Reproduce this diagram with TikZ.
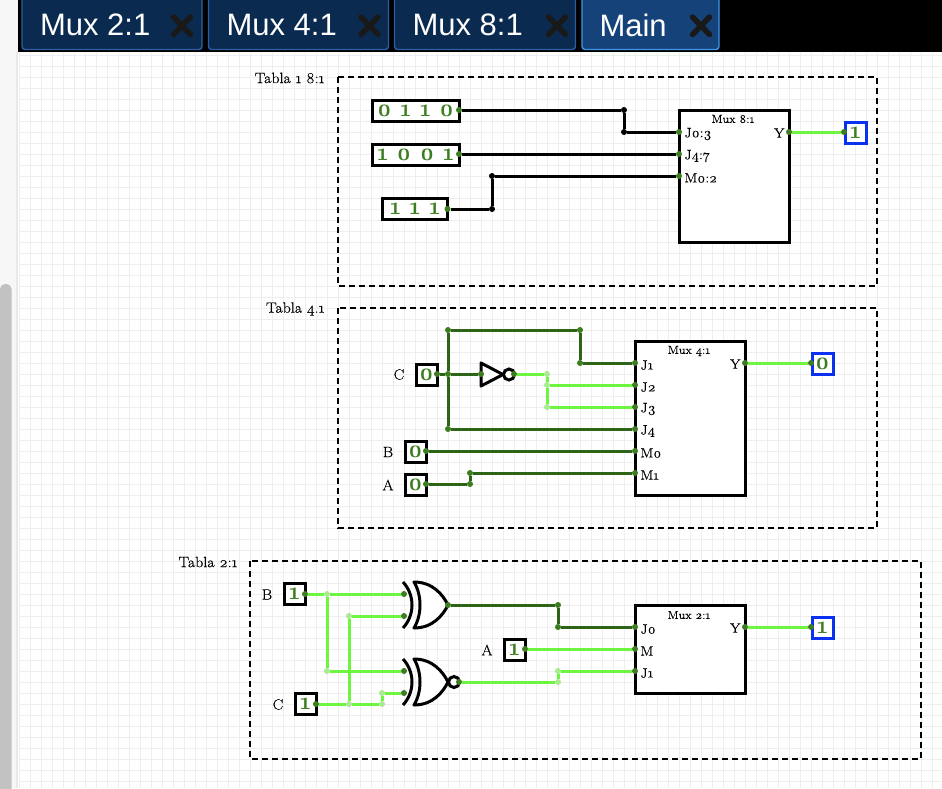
\documentclass[tikz,border=0pt]{standalone}
\usepackage{fontspec}
\setmainfont[Numbers=OldStyle,FakeBold=0.25,FakeStretch=1.06]{Latin Modern Roman}
\newfontfamily\digitfont[Numbers=OldStyle,FakeStretch=0.88,BoldFeatures={FakeStretch=0.88}]{Latin Modern Roman}
\setsansfont{Liberation Sans}
\usetikzlibrary{arrows.meta,positioning,shapes.geometric,calc}
\definecolor{wirelo}{HTML}{2E6417}
\definecolor{wirehi}{HTML}{6DF53F}
\definecolor{pingreen}{HTML}{3B7D1F}
\definecolor{pinlight}{HTML}{A8EB91}
\definecolor{outblue}{HTML}{0A30F0}
\definecolor{gridgray}{HTML}{EEEEEE}
\definecolor{tabnavy}{HTML}{0A2A4F}
\definecolor{tabline}{HTML}{2A5FA5}
\definecolor{tabmain}{HTML}{16427A}
\definecolor{tabmainline}{HTML}{3E95EA}
\tikzset{
  gridline/.style={draw=gridgray, line width=1pt},
  group/.style={draw=black, line width=1.6pt, dash pattern=on 6pt off 4pt},
  grouptitle/.style={font=\fontsize{15}{16}\selectfont, anchor=east},
  inbox/.style={draw=black, line width=3pt, fill=white, inner sep=0pt, minimum height=21pt, text=pingreen, font=\digitfont\bfseries\fontsize{25}{26}\selectfont},
  outbox/.style={inbox, draw=outblue},
  muxbox/.style={draw=black, line width=3pt, fill=white, minimum width=110pt},
  muxtitle/.style={font=\fontsize{11.5}{12}\selectfont},
  pinlabel/.style={font=\fontsize{13.5}{14}\selectfont, anchor=west},
  sidelabel/.style={font=\fontsize{15}{16}\selectfont},
  pindot/.style={circle, fill=pingreen, inner sep=0pt, minimum size=6pt},
  lightdot/.style={circle, fill=pinlight, inner sep=0pt, minimum size=6pt},
  busdot/.style={circle, fill=black, inner sep=0pt, minimum size=6pt},
  wlo/.style={draw=wirelo, line width=3pt},
  whi/.style={draw=wirehi, line width=3pt},
  wbus/.style={draw=black, line width=3pt},
  gateline/.style={draw=black, line width=3pt, fill=white, line join=round},
  bubble/.style={circle, draw=black, line width=3pt, fill=white, inner sep=0pt, minimum size=11pt},
  tabbox/.style={rounded corners=3pt, line width=1.4pt, draw=tabline, fill=tabnavy, minimum height=54pt, inner sep=0pt},
  tabtext/.style={font=\sffamily\fontsize{31}{32}\selectfont, text=white, anchor=west},
  closex/.style={draw=black!90, line width=5.5pt, line cap=round},
  xorgate/.pic={
    \draw[gateline, fill=none] (0,-23) .. controls (12,-10) and (12,10) .. (0,23);
    \draw[gateline] (11,-23) .. controls (30,-23) and (40,-10) .. (45,0) .. controls (40,10) and (30,23) .. (11,23) .. controls (19,10) and (19,-10) .. (11,-23) -- cycle;
  }
}
\begin{document}
\begin{tikzpicture}[x=1pt,y=-1pt]
\useasboundingbox (0,0) rectangle (942,788);
\fill[white] (0,0) rectangle (942,788);
% page
\fill[black!3] (0,0) rectangle (18,788);
\fill[black!9] (16,52) rectangle (18,788);
\fill[black!24, rounded corners=5pt] (0,284) rectangle (11.5,800);
\foreach \x in {19.7,30.7,...,942} \draw[gridline] (\x,52) -- (\x,788);
\foreach \y in {55.3,66.3,...,788} \draw[gridline] (19,\y) -- (942,\y);
% tabs
\fill[black] (18,0) rectangle (942,52);
\foreach \n/\x/\w/\t/\c in {a/112/180/Mux 2:1/182,b/298.5/180/Mux 4:1/369.5,c/485/181/Mux 8:1/557} {
  \node[tabbox, minimum width=\w] (tab\n) at (\x,22.5) {};
  \node[tabtext] (tab\n t) at (\x-\w/2+14.5,25) {\t};
  \draw[closex] (\c-8.5,17) -- (\c+8.5,34.5) (\c-8.5,34.5) -- (\c+8.5,17);
}
\node[tabbox, minimum width=137, fill=tabmain, draw=tabmainline] (tabd) at (650.5,22.5) {};
\node[tabtext] (tabd t) at (596,25) {Main};
\draw[closex] (692.5,17) -- (709.5,34.5) (692.5,34.5) -- (709.5,17);

% table 8:1
\draw[group] (338,77) rectangle (877,286);
\node[grouptitle] (t8) at (328,78) {Tabla 1 8:1};
\node[inbox, minimum width=87pt] (x0) at (415.5,110.5) {0\hspace{9pt}1\hspace{9pt}1\hspace{9pt}0\hspace{2pt}};
\node[inbox, minimum width=87pt] (x1) at (415.5,154.5) {1\hspace{9pt}0\hspace{9pt}0\hspace{9pt}1\hspace{2pt}};
\node[inbox, minimum width=65pt] (x2) at (415,209) {1\hspace{9pt}1\hspace{9pt}1\hspace{2pt}};
\node[muxbox, minimum height=132pt] (mux8) at (734.5,176.5) {};
\node[muxtitle] (mux8t) at (733,119) {Mux 8:1};
\foreach \n/\y/\t in {a/132/J0:3,b/154/J4:7,c/176/M0:2} {
  \node[pindot] (m8\n) at (679,\y) {};
  \node[pinlabel] (m8\n t) at (681,\y+2) {\t};
}
\node[pindot] (m8y) at (789,132) {};
\node[pinlabel, anchor=east] (m8yt) at (788,133) {Y};
\node[outbox, minimum width=21pt] (o8) at (855.5,132.5) {1};
\node[pindot] (o8p) at (844,132) {};
\node[pindot] (x0p) at (459,110) {};
\node[pindot] (x1p) at (459,154) {};
\node[pindot] (x2p) at (447.5,209) {};
\node[busdot] (b1) at (624,110) {};
\node[busdot] (b2) at (624,132) {};
\node[busdot] (b3) at (492,209) {};
\node[busdot] (b4) at (492,176) {};
\draw[wbus] (x0p) -- (b1) -- (b2) -- (m8a);
\draw[wbus] (x1p) -- (m8b);
\draw[wbus] (x2p) -- (b3) -- (b4) -- (m8c);
\draw[whi] (m8y) -- (o8p);

% table 4:1
\draw[group] (338,308) rectangle (877,528);
\node[grouptitle] (t4) at (328,309) {Tabla 4.1};
\node[inbox, minimum width=21pt] (c4) at (426.5,374.5) {0};
\node[inbox, minimum width=21pt] (b4i) at (415.5,451.5) {0};
\node[inbox, minimum width=21pt] (a4i) at (415.5,484.5) {0};
\node[sidelabel] (c4t) at (399,374.5) {C};
\node[sidelabel] (b4t) at (388,452) {B};
\node[sidelabel] (a4t) at (388,485) {A};
\node[muxbox, minimum height=154pt] (mux4) at (690.5,418) {};
\node[muxtitle] (mux4t) at (689,351) {Mux 4:1};
\foreach \n/\y/\t in {a/363/J1,b/385/J2,c/407/J3,d/429/J4,e/451/M0,f/473/M1} {
  \node[pindot] (m4\n) at (635,\y) {};
  \node[pinlabel] (m4\n t) at (637,\y+2) {\t};
}
\node[pindot] (m4y) at (745,363) {};
\node[pinlabel, anchor=east] (m4yt) at (744,364) {Y};
\node[outbox, minimum width=21pt] (o4) at (822.5,363.5) {0};
\node[pindot] (o4p) at (811,363) {};
\draw[gateline] (481,363) -- (503,374.5) -- (481,386) -- cycle;
\node[bubble] (inv) at (509,374.5) {};
\node[pindot] (invi) at (481,374) {};
\node[pindot] (invo) at (514,374) {};
\node[pindot] (c4p) at (437,374) {};
\node[pindot] (b4p) at (426,451) {};
\node[pindot] (a4p) at (426,484) {};
\node[pindot] (n1) at (448,374) {};
\node[pindot] (n2) at (448,330) {};
\node[pindot] (n3) at (580,330) {};
\node[pindot] (n4) at (580,363) {};
\node[pindot] (n5) at (448,429) {};
\node[pindot] (n6) at (470,484) {};
\node[pindot] (n7) at (470,473) {};
\node[lightdot] (h1) at (547,374) {};
\node[lightdot] (h2) at (547,385) {};
\node[lightdot] (h3) at (547,407) {};
\draw[wlo] (c4p) -- (n1) -- (invi);
\draw[wlo] (n5) -- (n1) -- (n2) -- (n3) -- (n4) -- (m4a);
\draw[wlo] (n5) -- (m4d);
\draw[wlo] (b4p) -- (m4e);
\draw[wlo] (a4p) -- (n6) -- (n7) -- (m4f);
\draw[whi] (invo) -- (h1) -- (h2) -- (h3) -- (m4c);
\draw[whi] (h2) -- (m4b);
\draw[whi] (m4y) -- (o4p);

% table 2:1
\draw[group] (250,561) rectangle (921,759);
\node[grouptitle] (t2) at (241,562) {Tabla 2:1};
\node[inbox, minimum width=21pt] (b2i) at (294.5,594) {1};
\node[inbox, minimum width=21pt] (c2i) at (305.5,704) {1};
\node[inbox, minimum width=21pt] (a2i) at (514.5,649.5) {1};
\node[sidelabel] (b2t) at (267,594.5) {B};
\node[sidelabel] (c2t) at (278,704.5) {C};
\node[sidelabel] (a2t) at (487,650) {A};
\node[muxbox, minimum height=88pt] (mux2) at (690.5,649) {};
\node[muxtitle] (mux2t) at (689,615) {Mux 2:1};
\foreach \n/\y/\t in {a/627/J0,b/649/M,c/671/J1} {
  \node[pindot] (m2\n) at (635,\y) {};
  \node[pinlabel] (m2\n t) at (637,\y+2) {\t};
}
\node[pindot] (m2y) at (745,627) {};
\node[pinlabel, anchor=east] (m2yt) at (744,628) {Y};
\node[outbox, minimum width=21pt] (o2) at (822.5,627.5) {1};
\node[pindot] (o2p) at (811,627) {};
\pic at (403,605) {xorgate};
\pic at (403,682) {xorgate};
\node[bubble] (xn) at (454,682) {};
\node[pindot] (g1a) at (404,594) {};
\node[pindot] (g1b) at (404,616) {};
\node[pindot] (g1o) at (448,605) {};
\node[pindot] (g2a) at (404,671) {};
\node[pindot] (g2b) at (404,693) {};
\node[pindot] (g2o) at (459,682) {};
\node[pindot] (b2p) at (305,594) {};
\node[pindot] (c2p) at (316,704) {};
\node[pindot] (a2p) at (525,649) {};
\node[lightdot] (k1) at (327,594) {};
\node[lightdot] (k2) at (327,671) {};
\node[lightdot] (k3) at (349,616) {};
\node[lightdot] (k4) at (349,704) {};
\node[lightdot] (k5) at (382,704) {};
\node[lightdot] (k6) at (382,693) {};
\node[lightdot] (k7) at (558,682) {};
\node[lightdot] (k8) at (558,671) {};
\node[pindot] (k9) at (558,605) {};
\node[pindot] (k10) at (558,627) {};
\draw[whi] (b2p) -- (k1) -- (g1a);
\draw[whi] (k1) -- (k2) -- (g2a);
\draw[whi] (c2p) -- (k4) -- (k5) -- (k6) -- (g2b);
\draw[whi] (k4) -- (k3) -- (g1b);
\draw[wlo] (g1o) -- (k9) -- (k10) -- (m2a);
\draw[whi] (a2p) -- (m2b);
\draw[whi] (g2o) -- (k7) -- (k8) -- (m2c);
\draw[whi] (m2y) -- (o2p);
\end{tikzpicture}
\end{document}
